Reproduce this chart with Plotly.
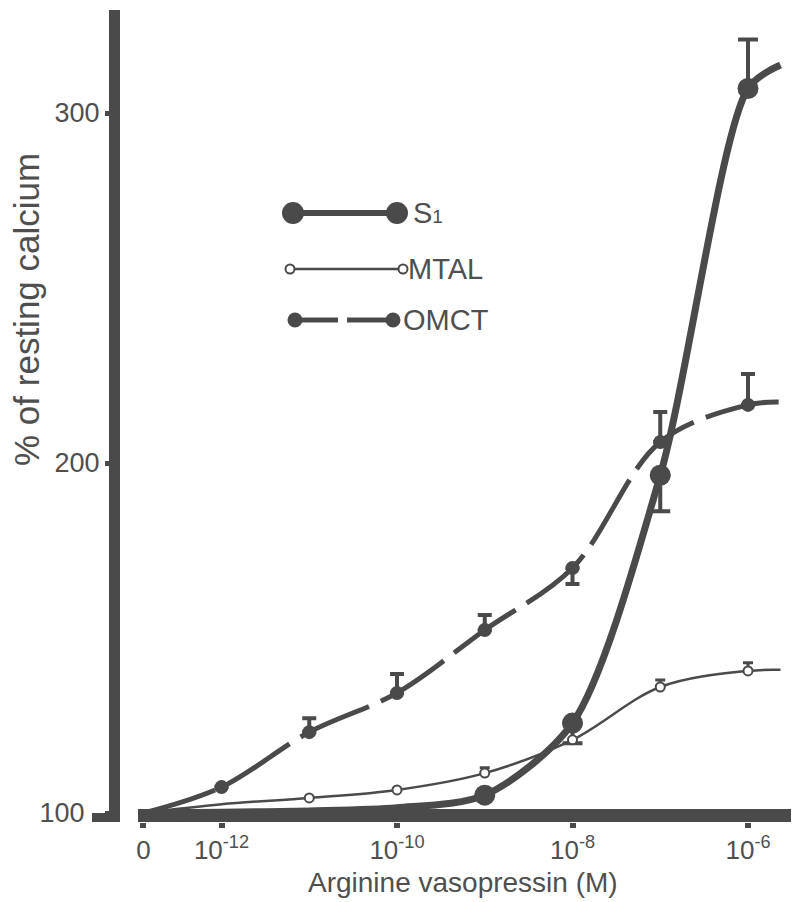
import plotly.graph_objects as go

# ---------------- data ----------------
# position that stands for the "0" (no hormone) point on the broken log axis
X_ZERO = 10 ** -12.89
# right-hand end of the drawn dose-response curves
X_END = 10 ** -5.63

x_tick_vals = [X_ZERO, 1e-12, 1e-10, 1e-8, 1e-6]
x_tick_text = ["0", "10<sup>-12</sup>", "10<sup>-10</sup>", "10<sup>-8</sup>", "10<sup>-6</sup>"]
y_tick_vals = [100, 200, 300]
y_tick_text = ["100\u00a0\u00a0", "200", "300"]

# S1 segment
s1_conc = [1e-9, 1e-8, 1e-7, 1e-6]
s1_mean = [105.1, 125.7, 196.5, 307.0]
s1_err_up = [0, 0, 0, 14.0]
s1_err_down = [0, 5.8, 10.3, 0]
s1_curve_conc = [X_ZERO, 1e-12, 1e-11, 1e-10, 1e-9, 1e-8, 1e-7, 1e-6, X_END]
s1_curve_val = [100, 100.2, 100.6, 101.5, 105.1, 125.7, 196.5, 307.0, 313.7]

# MTAL
mtal_conc = [1e-11, 1e-10, 1e-9, 1e-8, 1e-7, 1e-6]
mtal_mean = [104.3, 106.6, 111.4, 120.9, 136.0, 140.6]
mtal_err_up = [0, 0, 1.5, 0, 2.0, 2.3]
mtal_curve_conc = [X_ZERO, 1e-12, 1e-11, 1e-10, 1e-9, 1e-8, 1e-7, 1e-6, X_END]
mtal_curve_val = [100, 102.5, 104.3, 106.6, 111.4, 120.9, 136.0, 140.6, 140.9]

# OMCT
omct_conc = [1e-12, 1e-11, 1e-10, 1e-9, 1e-8, 1e-7, 1e-6]
omct_mean = [107.4, 123.1, 134.3, 152.3, 170.0, 206.0, 216.6]
omct_err_up = [0, 4.0, 5.4, 4.3, 0, 8.6, 8.8]
omct_err_down = [0, 0, 0, 0, 4.6, 0, 0]
omct_curve_conc = [X_ZERO, 1e-12, 1e-11, 1e-10, 1e-9, 1e-8, 1e-7, 1e-6, X_END]
omct_curve_val = [100, 107.4, 123.1, 134.3, 152.3, 170.0, 206.0, 216.6, 217.4]

series_names = ["S<span style='font-size:19px'>1</span>", "MTAL", "OMCT"]

# ---------------- styling / layout ----------------
INK = "#4a4a4a"
TXT = "#4f4f4f"
FONT = "Liberation Sans"
PAGE_W, PAGE_H = 799, 902
BODY = 8                                 # default page margin around the figure
W, H = PAGE_W - BODY, PAGE_H - BODY
PL, PR, PT, PB = 120, 799, 10, 822       # plot area in page pixels
PX_PER_DECADE = 87.75
X_REF_PX, X_REF_LOG = 748, -6            # 10^-6 sits at x = 748 px
Y_PX_100, PX_PER_UNIT = 813, 3.5

x_range = [X_REF_LOG + (PL - X_REF_PX) / PX_PER_DECADE,
           X_REF_LOG + (PR - X_REF_PX) / PX_PER_DECADE]
y_range = [100 - (PB - Y_PX_100) / PX_PER_UNIT,
           100 + (Y_PX_100 - PT) / PX_PER_UNIT]


def px_x(px):
    return (px - PL) / (PR - PL)


def px_y(py):
    return (PB - py) / (PB - PT)


fig = go.Figure()

# smooth curves
fig.add_trace(go.Scatter(x=omct_curve_conc, y=omct_curve_val, mode="lines",
                         line=dict(color=INK, width=5, shape="spline", smoothing=1.0, dash="75px,13px"),
                         hoverinfo="skip", showlegend=False))
fig.add_trace(go.Scatter(x=s1_curve_conc, y=s1_curve_val, mode="lines",
                         line=dict(color=INK, width=7, shape="spline", smoothing=0.8),
                         hoverinfo="skip", showlegend=False))
fig.add_trace(go.Scatter(x=mtal_curve_conc, y=mtal_curve_val, mode="lines",
                         line=dict(color=INK, width=2.5, shape="spline", smoothing=1.0),
                         hoverinfo="skip", showlegend=False))

# measured points with one-sided error bars
fig.add_trace(go.Scatter(x=s1_conc, y=s1_mean, mode="markers",
                         marker=dict(color=INK, size=21, line=dict(width=0)),
                         error_y=dict(type="data", symmetric=False, array=s1_err_up,
                                      arrayminus=s1_err_down, color=INK, thickness=4, width=10),
                         name="S1", showlegend=False))
fig.add_trace(go.Scatter(x=omct_conc, y=omct_mean, mode="markers",
                         marker=dict(color=INK, size=14, line=dict(width=0)),
                         error_y=dict(type="data", symmetric=False, array=omct_err_up,
                                      arrayminus=omct_err_down, color=INK, thickness=4, width=7),
                         name="OMCT", showlegend=False))
fig.add_trace(go.Scatter(x=mtal_conc, y=mtal_mean, mode="markers",
                         marker=dict(color="white", size=9, line=dict(color=INK, width=2)),
                         error_y=dict(type="data", symmetric=False, array=mtal_err_up,
                                      arrayminus=[0] * len(mtal_conc), color=INK, thickness=3, width=5),
                         name="MTAL", showlegend=False))

# hand-drawn style legend on a pixel overlay axis
legend_keys = [
    dict(x=[293, 397], y=[213, 213], lw=6, ms=20, fill=INK, dash="solid", tx=411),
    dict(x=[290, 403], y=[269, 269], lw=2.5, ms=9, fill="white", dash="solid", tx=406),
    dict(x=[295, 393], y=[320, 320], lw=5, ms=13, fill=INK, dash="43px,9px", tx=401),
]
for key, name in zip(legend_keys, series_names):
    fig.add_trace(go.Scatter(x=key["x"], y=key["y"], xaxis="x2", yaxis="y2", mode="lines+markers",
                             line=dict(color=INK, width=key["lw"], dash=key["dash"]),
                             marker=dict(color=key["fill"], size=key["ms"], line=dict(color=INK, width=2)),
                             hoverinfo="skip", showlegend=False))
    fig.add_annotation(x=px_x(key["tx"]), y=px_y(key["y"][0]), xref="paper", yref="paper", text=name,
                       showarrow=False, xanchor="left", yanchor="middle",
                       font=dict(family=FONT, size=29, color=TXT))

# axis titles
fig.add_annotation(x=px_x(463), y=px_y(882), xref="paper", yref="paper",
                   text="Arginine vasopressin (M)",
                   showarrow=False, xanchor="center", yanchor="middle",
                   font=dict(family=FONT, size=28, color=TXT))
fig.add_annotation(x=px_x(26), y=px_y(310), xref="paper", yref="paper",
                   text="% of resting calcium",
                   textangle=-90, showarrow=False, xanchor="center", yanchor="middle",
                   font=dict(family=FONT, size=35, color=TXT))

# thick x-axis baseline (starts right of the y-axis, leaving a gap)
fig.add_shape(type="line", xref="paper", yref="paper",
              x0=px_x(138), x1=1.0, y0=px_y(815.5), y1=px_y(815.5),
              line=dict(color=INK, width=13), layer="below")
# foot of the y-axis at the 100 tick
fig.add_shape(type="line", xref="paper", yref="paper",
              x0=px_x(92), x1=px_x(116), y0=px_y(817.5), y1=px_y(817.5),
              line=dict(color=INK, width=9), layer="below")

fig.update_layout(
    width=W, height=H,
    margin=dict(l=PL - BODY, r=PAGE_W - PR, t=PT - BODY, b=H - (PB - BODY)),
    paper_bgcolor="white", plot_bgcolor="white",
    showlegend=False,
    xaxis=dict(type="log", range=x_range, tickmode="array", tickvals=x_tick_vals,
               ticktext=x_tick_text, ticks="outside", ticklen=5, tickwidth=6, tickcolor=INK,
               showgrid=False, zeroline=False, showline=False,
               tickfont=dict(family=FONT, size=26, color=TXT)),
    yaxis=dict(range=y_range, tickmode="array", tickvals=y_tick_vals, ticktext=y_tick_text,
               ticks="outside", ticklen=4, tickwidth=5, tickcolor=INK,
               showgrid=False, zeroline=False, showline=True, linewidth=11, linecolor=INK,
               tickfont=dict(family=FONT, size=27, color=TXT)),
    xaxis2=dict(overlaying="x", range=[PL, PR], visible=False, anchor="y2"),
    yaxis2=dict(overlaying="y", range=[PB, PT], visible=False, anchor="x2"),
)

fig.write_html("out.html")
